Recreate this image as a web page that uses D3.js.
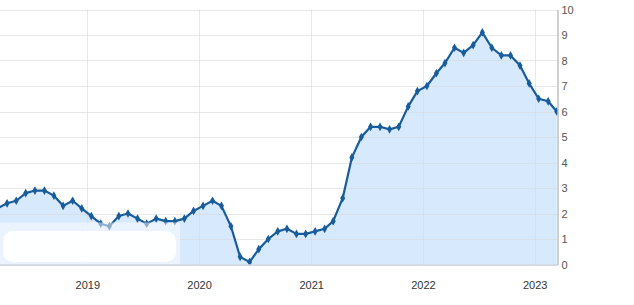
<!DOCTYPE html>
<html lang="en">

<head>
	<meta charset="utf-8">
	<title>CPI chart</title>
	<script src="https://d3js.org/d3.v7.min.js"></script>
	<style type="text/css">
		body {
			margin: 0;
			background: #fff;
		}

		.axis text {
			font-family: "Liberation Sans", Arial, sans-serif;
			font-size: 11px;
		}
	</style>
</head>

<body>

	<script type="text/javascript">

		//Data: yearly change, one value per month from Jan 2018 to Feb 2023
		var startYear = 2018;
		var values2018 = [2.1, 2.2, 2.4, 2.5, 2.8, 2.9, 2.9, 2.7, 2.3, 2.5, 2.2, 1.9];
		var values2019 = [1.6, 1.5, 1.9, 2.0, 1.8, 1.6, 1.8, 1.7, 1.7, 1.8, 2.1, 2.3];
		var values2020 = [2.5, 2.3, 1.5, 0.3, 0.1, 0.6, 1.0, 1.3, 1.4, 1.2, 1.2, 1.3];
		var values2021 = [1.4, 1.7, 2.6, 4.2, 5.0, 5.4, 5.4, 5.3, 5.4, 6.2, 6.8, 7.0];
		var values2022 = [7.5, 7.9, 8.5, 8.3, 8.6, 9.1, 8.5, 8.2, 8.2, 7.8, 7.1, 6.5];
		var values2023 = [6.4, 6.0];

		var yearTicks = [2019, 2020, 2021, 2022, 2023];
		var valueTicks = [0, 1, 2, 3, 4, 5, 6, 7, 8, 9, 10];

		//Width and height
		var w = 634;
		var h = 305;
		var plotRight = 557.5;
		var plotTop = 9.5;
		var plotBottom = 264.5;

		//Build dataset; each value is shown at its release date (mid next month)
		var dataset = [];
		[values2018, values2019, values2020, values2021, values2022, values2023].forEach(function (arr, i) {
			arr.forEach(function (v, m) {
				dataset.push({ date: new Date(startYear + i, m + 1, 14), value: v });
			});
		});

		//Create scale functions
		var xScale = d3.scaleTime()
			.domain([new Date(2019, 0, 1), new Date(2023, 0, 1)])
			.range([87.3, 534.7]);

		var yScale = d3.scaleLinear()
			.domain([0, 10])
			.range([plotBottom, plotTop]);

		//Create SVG element
		var svg = d3.select("body")
			.append("svg")
			.attr("width", w)
			.attr("height", h);

		var clip = svg.append("clipPath")
			.attr("id", "plot")
			.append("rect")
			.attr("x", 0)
			.attr("y", 0)
			.attr("width", plotRight)
			.attr("height", plotBottom);

		//Area under the line
		var area = d3.area()
			.x(function (d) { return xScale(d.date); })
			.y0(yScale(0))
			.y1(function (d) { return yScale(d.value); });

		svg.append("path")
			.datum(dataset)
			.attr("clip-path", "url(#plot)")
			.attr("fill", "#d7e9fc")
			.attr("d", area);

		//Grid lines
		svg.append("g")
			.selectAll("line")
			.data(valueTicks)
			.enter()
			.append("line")
			.attr("x1", 0)
			.attr("x2", plotRight)
			.attr("y1", function (d) { return Math.round(yScale(d)) + 0.5; })
			.attr("y2", function (d) { return Math.round(yScale(d)) + 0.5; })
			.attr("stroke", "#d9d9d9")
			.attr("stroke-opacity", 0.6);

		svg.append("g")
			.selectAll("line")
			.data(yearTicks)
			.enter()
			.append("line")
			.attr("x1", function (d) { return Math.round(xScale(new Date(d, 0, 1))) + 0.5; })
			.attr("x2", function (d) { return Math.round(xScale(new Date(d, 0, 1))) + 0.5; })
			.attr("y1", plotTop)
			.attr("y2", plotBottom)
			.attr("stroke", "#d9d9d9")
			.attr("stroke-opacity", 0.6);

		//Line
		var line = d3.line()
			.x(function (d) { return xScale(d.date); })
			.y(function (d) { return yScale(d.value); });

		svg.append("path")
			.datum(dataset)
			.attr("clip-path", "url(#plot)")
			.attr("fill", "none")
			.attr("stroke", "#185c9c")
			.attr("stroke-width", 2.2)
			.attr("stroke-linejoin", "round")
			.attr("d", line);

		//Markers
		svg.append("g")
			.attr("clip-path", "url(#plot)")
			.selectAll("path")
			.data(dataset)
			.enter()
			.append("path")
			.attr("d", d3.symbol().type(d3.symbolDiamond).size(22))
			.attr("transform", function (d) {
				return "translate(" + xScale(d.date) + "," + yScale(d.value) + ")";
			})
			.attr("fill", "#185c9c");

		//Faded patch in the lower left corner
		svg.append("rect")
			.attr("x", 0)
			.attr("y", 222.5)
			.attr("width", 180)
			.attr("height", plotBottom - 222.5)
			.attr("fill", "#fff")
			.attr("fill-opacity", 0.5);

		svg.append("rect")
			.attr("x", 3)
			.attr("y", 231)
			.attr("width", 173)
			.attr("height", 31)
			.attr("rx", 10)
			.attr("fill", "#fff")
			.attr("fill-opacity", 0.95);

		//Create X axis
		var xAxis = d3.axisBottom(xScale)
			.tickValues(yearTicks.map(function (d) { return new Date(d, 0, 1); }))
			.tickFormat(d3.timeFormat("%Y"))
			.tickSize(0)
			.tickPadding(17);

		var gx = svg.append("g")
			.attr("class", "axis")
			.attr("transform", "translate(0," + plotBottom + ")")
			.call(xAxis);
		gx.select(".domain").remove();
		gx.selectAll("text").attr("fill", "#333");

		svg.append("line")
			.attr("x1", 0)
			.attr("x2", plotRight)
			.attr("y1", plotBottom + 0.5)
			.attr("y2", plotBottom + 0.5)
			.attr("stroke", "#b5c3d3");

		//Create Y axis
		var yAxis = d3.axisRight(yScale)
			.tickValues(valueTicks)
			.tickSize(0)
			.tickPadding(4);

		var gy = svg.append("g")
			.attr("class", "axis")
			.attr("transform", "translate(" + plotRight + ",0)")
			.call(yAxis);
		gy.select(".domain").attr("stroke", "#a0a0a0");
		gy.selectAll("text").attr("fill", "#555");

	</script>
</body>

</html>
